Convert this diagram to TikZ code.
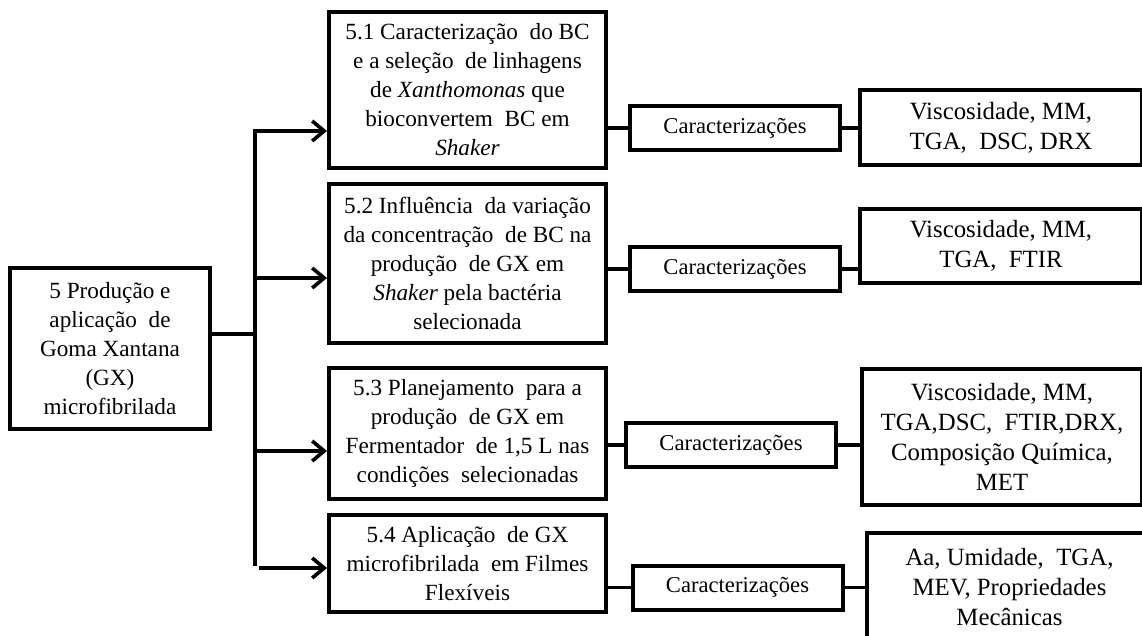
\documentclass[tikz,border=0pt]{standalone}
\usepackage{fontspec}
\setmainfont{Liberation Serif}
\usetikzlibrary{arrows.meta}
\usetikzlibrary{positioning}

\begin{document}
\begin{tikzpicture}[x=0.5pt,y=-0.5pt,
  box/.style={draw,line width=2pt,align=center,inner sep=2pt,
    font=\fontsize{11.6}{14.5}\selectfont},
  stage node/.style={box,minimum width=138.5pt},
  carac node/.style={box,minimum width=105pt,minimum height=22pt,
    font=\fontsize{11.3}{13}\selectfont},
  result node/.style={box,font=\fontsize{12.4}{15}\selectfont},
  link/.style={line width=1.8pt},
  arr/.style={link,-{Straight Barb[length=6pt,width=10pt]}}]

  \clip (0,0) rectangle (1142,636);

  \node[box,minimum width=100pt,minimum height=80.5pt] (root) at (110,348.5)
    {5 Produção e\\aplicação~ de\\Goma Xantana\\(GX)\\microfibrilada};

  \node[stage node,minimum height=78pt] (b1) at (467.5,90)
    {5.1 Caracterização~ do BC\\e a seleção~ de linhagens\\de \textit{Xanthomonas} que\\bioconvertem~ BC em\\\textit{Shaker}};
  \node[stage node,minimum height=79.5pt] (b2) [below=6pt of b1]
    {5.2 Influência~ da variação\\da concentração~ de BC na\\produção~ de GX em\\\textit{Shaker} pela bactéria\\selecionada};
  \node[stage node,minimum height=65.5pt] (b3) [below=10.5pt of b2]
    {5.3 Planejamento~ para a\\produção~ de GX em\\Fermentador~ de 1,5 L nas\\condições~ selecionadas};
  \node[stage node,minimum height=48.5pt] (b4) [below=6pt of b3]
    {5.4 Aplicação~ de GX\\microfibrilada~ em Filmes\\Flexíveis};

  \node[carac node] (c1) at (735,128) {Caracterizações};
  \node[carac node] (c2) at (735,269) {Caracterizações};
  \node[carac node] (c3) at (731,445) {Caracterizações};
  \node[carac node] (c4) at (737.5,587.5) {Caracterizações};

  \node[result node,minimum width=141pt,minimum height=37.5pt] (r1) [right=8pt of c1]
    {Viscosidade, MM,\\TGA,~ DSC, DRX};
  \node[result node,minimum width=141pt,minimum height=37pt] (r2) [right=8pt of c2,yshift=11.5pt]
    {Viscosidade, MM,\\TGA,~ FTIR};
  \node[result node,minimum width=140pt,minimum height=68pt] (r3) [right=11pt of c3,yshift=4pt]
    {Viscosidade, MM,\\TGA,DSC,~ FTIR,DRX,\\Composição Química,\\MET};
  \node[result node,minimum width=143pt,minimum height=54pt] (r4) [right=10pt of c4]
    {Aa, Umidade,~ TGA,\\MEV, Propriedades\\Mecânicas};

  % tronco e setas
  \coordinate (t1) at (255,131);
  \coordinate (t2) at (255,566);
  \coordinate (j) at (255,334);
  \coordinate (a2) at (255,278);
  \coordinate (a3) at (255,451);
  \coordinate (a4) at (259,568);

  \draw[arr] (t2) -- (t1) -- (t1 -| b1.west);
  \draw[link] (root.east |- j) -- (j);
  \draw[arr] (a2) -- (a2 -| b2.west);
  \draw[arr] (a3) -- (a3 -| b3.west);
  \draw[arr] (a4) -- (a4 -| b4.west);

  \draw[link] (b1.east |- c1) -- (c1.west);
  \draw[link] (b2.east |- c2) -- (c2.west);
  \draw[link] (b3.east |- c3) -- (c3.west);
  \draw[link] (b4.east |- c4) -- (c4.west);

  \draw[link] (c1.east) -- (c1.east -| r1.west);
  \draw[link] (c2.east) -- (c2.east -| r2.west);
  \draw[link] (c3.east) -- (c3.east -| r3.west);
  \draw[link] (c4.east) -- (c4.east -| r4.west);
\end{tikzpicture}
\end{document}
